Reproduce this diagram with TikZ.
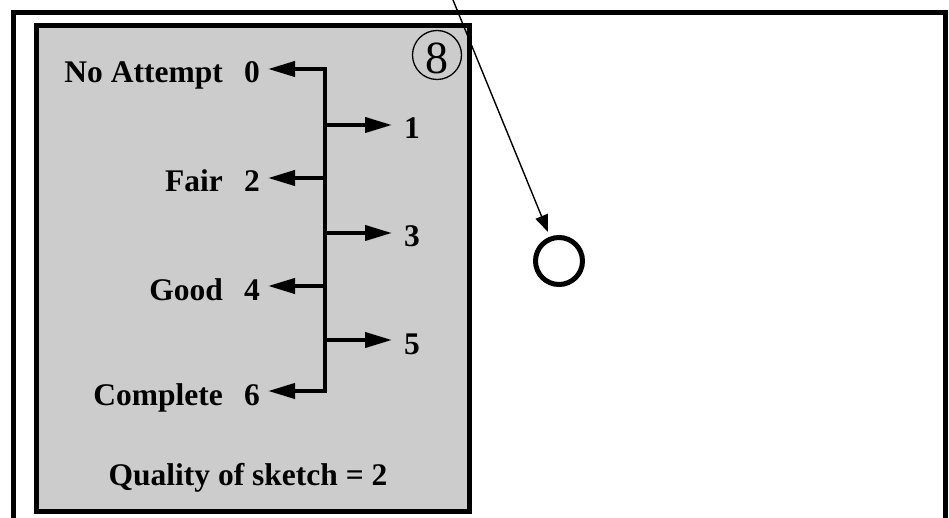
\documentclass[tikz,border=0pt]{standalone}
\usepackage{fontspec}
\setmainfont{Liberation Serif}
\usetikzlibrary{arrows.meta}
\definecolor{panelgray}{RGB}{204,204,204}
\tikzset{
  frame/.style={line width=5pt, line cap=butt, line join=miter},
  panel/.style={line width=5pt, fill=panelgray, draw=black},
  bigarrow/.style={line width=4pt, line join=miter, -{Triangle[length=27pt,width=15pt]}},
  lbl/.style={font=\fontsize{31.5}{37}\selectfont\bfseries, inner sep=0pt},
  pointer/.style={line width=1.4pt, -{Triangle[length=17pt,width=13pt]}}
}
\begin{document}
\begin{tikzpicture}[x=1pt, y=-1pt]
  \useasboundingbox (0,0) rectangle (949,518);

  % outer frame, open at the bottom
  \draw[frame] (13.5,518) -- (13.5,12.5) -- (945.5,12.5) -- (945.5,518);

  % grey scoring panel
  \draw[panel] (36,25.5) rectangle (469.5,511.5);

  % circled item number
  \node[circle, draw, line width=1.3pt, minimum size=49pt, inner sep=0pt] (num) at (437,55) {};
  \node[font=\fontsize{46}{48}\selectfont, inner sep=0pt] (numtext) at (437,58.5) {8};

  % scale spine and its corner points
  \coordinate (c0) at (325,69);
  \coordinate (c6) at (325,391);
  \coordinate (t0) at (268,69);
  \coordinate (t6) at (268,391);
  \draw[line width=4pt, line join=miter,
        {Triangle[length=27pt,width=15pt]}-{Triangle[length=27pt,width=15pt]}]
        (t0) -- (c0) -- (c6) -- (t6);

  % branch points on the spine and arrow tips
  \coordinate (b1) at (325,125); \coordinate (t1) at (392,125);
  \coordinate (b2) at (325,178); \coordinate (t2) at (268,178);
  \coordinate (b3) at (325,233); \coordinate (t3) at (392,233);
  \coordinate (b4) at (325,286); \coordinate (t4) at (268,286);
  \coordinate (b5) at (325,340); \coordinate (t5) at (392,340);
  \draw[bigarrow] (b1) -- (t1);
  \draw[bigarrow] (b2) -- (t2);
  \draw[bigarrow] (b3) -- (t3);
  \draw[bigarrow] (b4) -- (t4);
  \draw[bigarrow] (b5) -- (t5);

  % scale labels
  \node[lbl, anchor=base east] (w0) at (223,83) {No Attempt};
  \node[lbl, anchor=base east] (d0) at (260,83) {0};
  \node[lbl, anchor=base east] (w2) at (223,192) {Fair};
  \node[lbl, anchor=base east] (d2) at (260,192) {2};
  \node[lbl, anchor=base east] (w4) at (223,300) {Good};
  \node[lbl, anchor=base east] (d4) at (260,300) {4};
  \node[lbl, anchor=base east] (w6) at (223,405) {Complete};
  \node[lbl, anchor=base east] (d6) at (260,405) {6};
  \node[lbl, anchor=base west] (d1) at (404,139) {1};
  \node[lbl, anchor=base west] (d3) at (404,247) {3};
  \node[lbl, anchor=base west] (d5) at (404,354) {5};

  \node[lbl, anchor=base] (score) at (248,485) {Quality of sketch = 2};

  % target marker and its pointer
  \node[circle, draw, line width=5pt, minimum size=47pt, inner sep=0pt] (mark) at (559,261) {};
  \coordinate (src) at (453,0);
  \coordinate (tip) at (548,232);
  \draw[pointer] (src) -- (tip);
\end{tikzpicture}
\end{document}
